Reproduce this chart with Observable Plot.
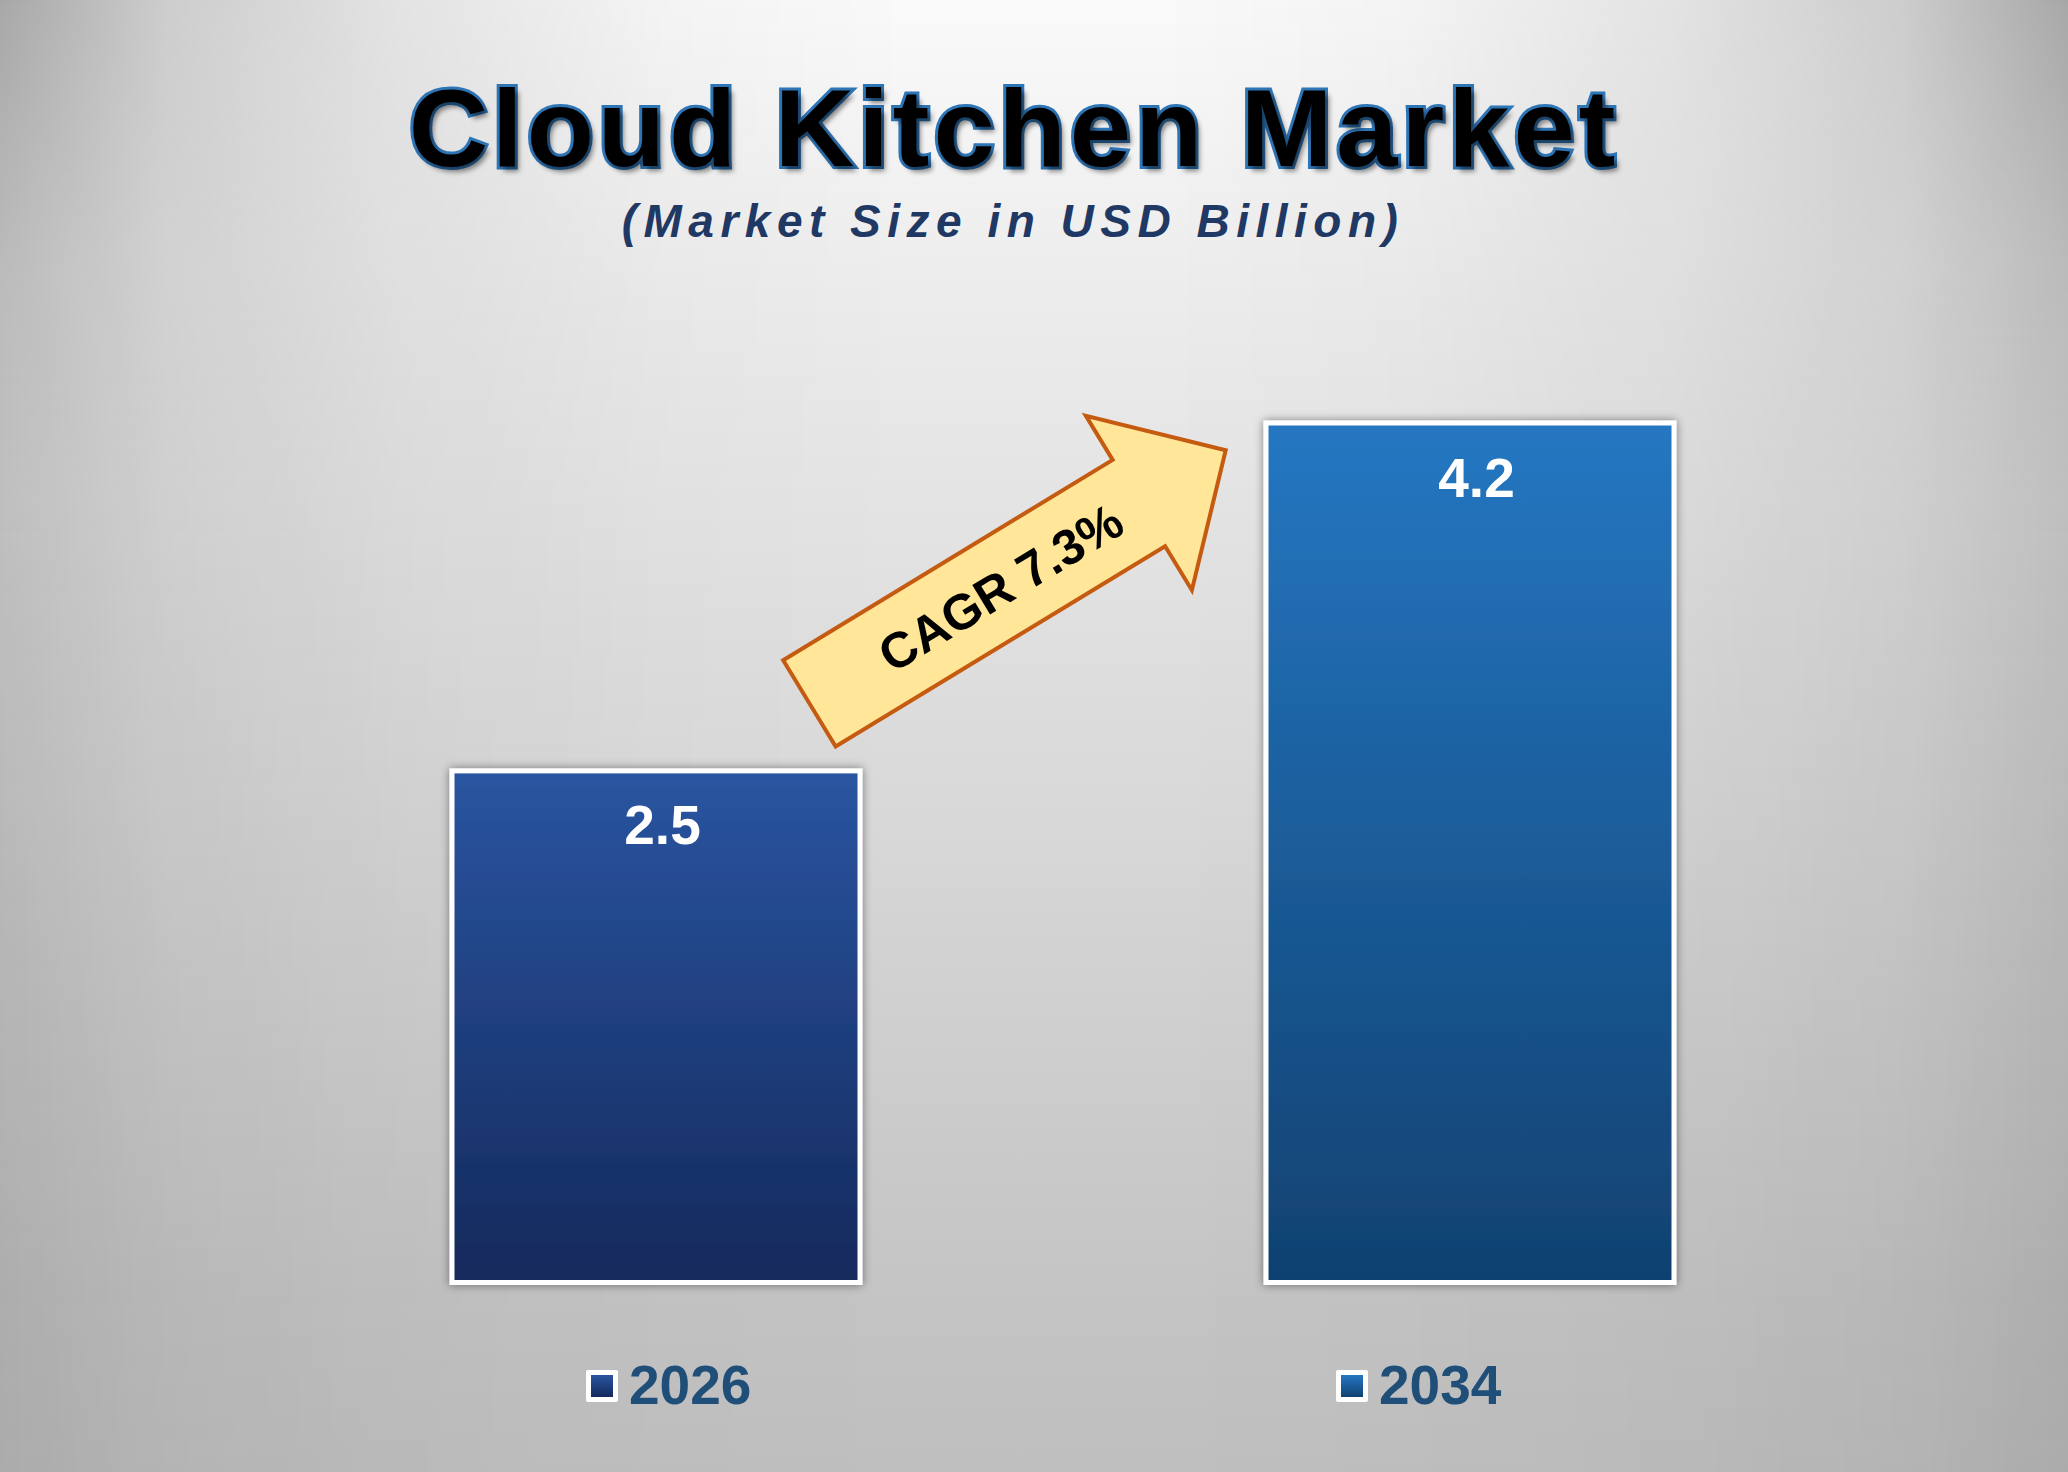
<!DOCTYPE html>
<html>
<head>
<meta charset="utf-8">
<script src="https://cdn.jsdelivr.net/npm/d3@7"></script>
<script src="https://cdn.jsdelivr.net/npm/@observablehq/plot@0.6"></script>
<style>
html, body { margin: 0; padding: 0; }
#page {
  position: relative; width: 2068px; height: 1472px; overflow: hidden;
  font-family: "Liberation Sans", Arial, sans-serif;
  background: linear-gradient(to bottom, #fafafa 0%, #ececec 20%, #e4e4e4 34%, #d9d9d9 54%, #d0d0d0 68%, #c4c4c4 88%, #bfbfbf 100%);
}
#page::before {
  content: ""; position: absolute; left: 0; top: 0; width: 100%; height: 100%;
  background: linear-gradient(to right, rgba(0,0,0,1) 0%, rgba(0,0,0,0.55) 8%, rgba(0,0,0,0.27) 19.3%, rgba(0,0,0,0.08) 32%, rgba(0,0,0,0) 44%, rgba(0,0,0,0) 56%, rgba(0,0,0,0.08) 68%, rgba(0,0,0,0.27) 80.7%, rgba(0,0,0,0.55) 92%, rgba(0,0,0,1) 100%);
  -webkit-mask-image: linear-gradient(to bottom, rgba(0,0,0,0.33) 0%, rgba(0,0,0,0.21) 18%, rgba(0,0,0,0.16) 34%, rgba(0,0,0,0.13) 68%, rgba(0,0,0,0.10) 100%);
  mask-image: linear-gradient(to bottom, rgba(0,0,0,0.33) 0%, rgba(0,0,0,0.21) 18%, rgba(0,0,0,0.16) 34%, rgba(0,0,0,0.13) 68%, rgba(0,0,0,0.10) 100%);
}
#title {
  position: absolute; left: 0; top: 73px; width: 2028px; text-align: center;
  font-size: 110px; line-height: 110px; font-weight: bold; letter-spacing: 4px;
  color: #000; -webkit-text-stroke: 6px #2e75b6; paint-order: stroke fill;
  text-shadow: 4px 5px 5px rgba(0,0,0,0.45);
}
#subtitle {
  position: absolute; left: 0; top: 198px; width: 2026px; text-align: center;
  font-size: 46px; line-height: 46px; font-weight: bold; font-style: italic; letter-spacing: 6.5px;
  color: #1f3864;
}
#chart { position: absolute; left: 0; top: 300px; }
.lg-sq { position: absolute; width: 22px; height: 22px; border: 5px solid #fff; border-radius: 2px; }
.lg-tx { position: absolute; font-size: 55px; line-height: 55px; font-weight: bold; color: #1f4e79; }
</style>
</head>
<body>
<div id="page">
  <div id="title"></div>
  <div id="subtitle"></div>
  <div id="chart"></div>
  <div id="legend"></div>
</div>
<script>
// ---- data ----
const titleText = "Cloud Kitchen Market";
const subtitleText = "(Market Size in USD Billion)";
const years = ["2026", "2034"];
const values = [2.5, 4.2];
const cagrLabel = "CAGR 7.3%";

// ---- styles / layout ----
const gradTop = ["#2a55a1", "#2577c2"];
const gradBottom = ["#14295b", "#104170"];
const legendLeft = [586, 1336];
const arrowCfg = { fromYear: "2026", fromFrac: 0.876, fromValue: 2.83, angle: -31.3,
  shaft: 385.6, head: 101.6, shaftWidth: 101, headWidth: 204, textAt: 223.6 };

document.getElementById("title").textContent = titleText;
document.getElementById("subtitle").textContent = subtitleText;

const data = years.map((year, i) => ({ year, value: values[i] }));

function arrowMark(index, scales, channels, dimensions, context) {
  const x = scales.x, y = scales.y;
  const bw = typeof x.bandwidth === "function" ? x.bandwidth() : x.bandwidth;
  const tx = x(arrowCfg.fromYear) + arrowCfg.fromFrac * bw;
  const ty = y(arrowCfg.fromValue);
  const L = arrowCfg.shaft, H = arrowCfg.head, s = arrowCfg.shaftWidth / 2, h = arrowCfg.headWidth / 2;
  const pts = [[0, -s], [L, -s], [L, -h], [L + H, 0], [L, h], [L, s], [0, s]];
  const g = d3.create("svg:g").attr("transform", `translate(${tx},${ty}) rotate(${arrowCfg.angle})`);
  g.append("path")
    .attr("d", "M" + pts.map(p => p.join(",")).join("L") + "Z")
    .attr("fill", "#ffe699").attr("stroke", "#c55a11").attr("stroke-width", 4).attr("stroke-linejoin", "miter");
  g.append("text")
    .attr("x", arrowCfg.textAt).attr("y", 0).attr("dy", "0.36em")
    .attr("text-anchor", "middle").attr("font-size", 50).attr("font-weight", "bold")
    .attr("font-family", "'Liberation Sans', Arial, sans-serif").attr("fill", "#000")
    .text(cagrLabel);
  return g.node();
}

const chart = Plot.plot({
  width: 2068, height: 1040,
  marginTop: 123, marginBottom: 57.5, marginLeft: 248, marginRight: 190,
  style: { background: "transparent", overflow: "visible", fontFamily: "'Liberation Sans', Arial, sans-serif" },
  x: { type: "band", domain: years, paddingInner: 0.499, paddingOuter: 0.25, axis: null },
  y: { domain: [0, 4.2], axis: null },
  color: { type: "ordinal", domain: years, range: years.map(y => `url(#g${y})`) },
  marks: [
    Plot.barY(data, { x: "year", y: "value", fill: "year", stroke: "white", strokeWidth: 5 }),
    Plot.text(data, { x: "year", y: "value", text: d => d.value.toFixed(1), lineAnchor: "bottom",
      dy: 73, dx: 6, fill: "white", fontSize: 55, fontWeight: "bold" }),
    arrowMark
  ]
});

const svg = d3.select(chart);
const defs = svg.insert("defs", ":first-child");
years.forEach((y, i) => {
  const lg = defs.append("linearGradient").attr("id", `g${y}`).attr("x1", 0).attr("y1", 0).attr("x2", 0).attr("y2", 1);
  lg.append("stop").attr("offset", "0%").attr("stop-color", gradTop[i]);
  lg.append("stop").attr("offset", "100%").attr("stop-color", gradBottom[i]);
});
const f = defs.append("filter").attr("id", "barShadow").attr("x", "-10%").attr("y", "-10%").attr("width", "120%").attr("height", "120%");
f.append("feDropShadow").attr("dx", 0).attr("dy", 0).attr("stdDeviation", 5).attr("flood-color", "#000").attr("flood-opacity", 0.45);
svg.selectAll("g[aria-label='bar'] rect").attr("filter", "url(#barShadow)");
document.getElementById("chart").appendChild(chart);

// legend
const legend = document.getElementById("legend");
years.forEach((y, i) => {
  const sq = document.createElement("div");
  sq.className = "lg-sq";
  sq.style.left = legendLeft[i] + "px";
  sq.style.top = "1370px";
  sq.style.background = `linear-gradient(${gradTop[i]}, ${gradBottom[i]})`;
  legend.appendChild(sq);
  const tx = document.createElement("div");
  tx.className = "lg-tx";
  tx.style.left = (legendLeft[i] + 43) + "px";
  tx.style.top = "1358px";
  tx.textContent = y;
  legend.appendChild(tx);
});
</script>
</body>
</html>
